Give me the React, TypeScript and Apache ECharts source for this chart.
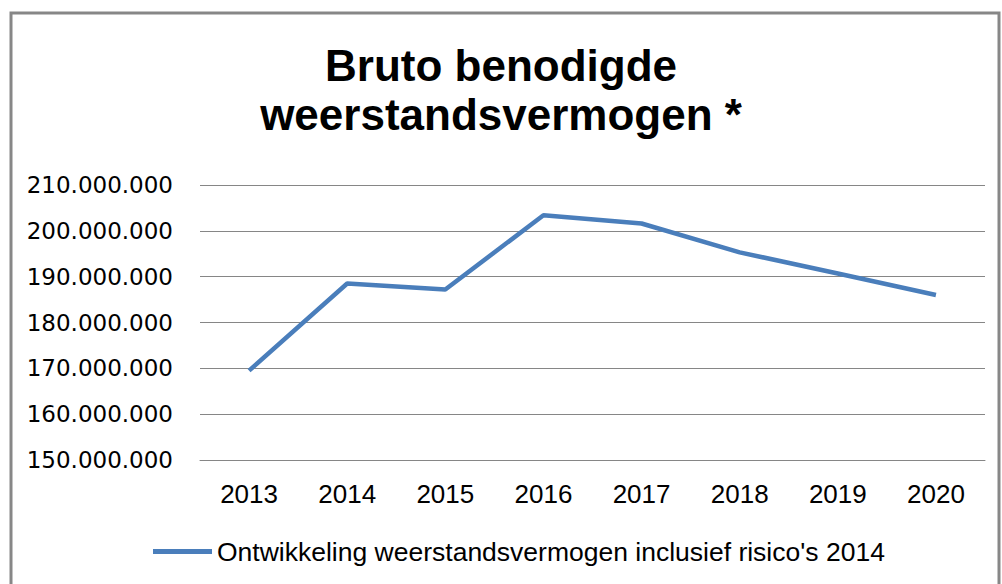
import React, { useEffect, useRef } from "react";
import * as echarts from "echarts";

const titleLines = ["Bruto benodigde", "weerstandsvermogen *"];
const years = ["2013", "2014", "2015", "2016", "2017", "2018", "2019", "2020"];
const seriesName = "Ontwikkeling weerstandsvermogen inclusief risico's 2014";
const values = [169500000, 188500000, 187200000, 203400000, 201600000, 195300000, 190700000, 186000000];
const yMin = 150000000;
const yMax = 210000000;
const yStep = 10000000;

function fmt(v: number): string {
  return String(Math.round(v)).replace(/\B(?=(\d{3})+(?!\d))/g, ".");
}

export default function App() {
  const ref = useRef<HTMLDivElement>(null);
  useEffect(() => {
    document.body.style.margin = "0";
    const chart = echarts.init(ref.current!, null, { renderer: "svg" });
    chart.setOption({
      animation: false,
      backgroundColor: "#ffffff",
      title: {
        text: titleLines.join("\n"),
        left: "center",
        top: 41,
        padding: [0, 0, 0, 20],
        textStyle: {
          fontFamily: "Liberation Sans, sans-serif",
          fontWeight: "bold",
          fontSize: 44,
          lineHeight: 49,
          color: "#000000",
        },
      },
      graphic: [
        {
          type: "rect",
          shape: { x: 11, y: 13, width: 988, height: 600 },
          style: { fill: "none", stroke: "#878787", lineWidth: 3 },
          silent: true,
        },
      ],
      legend: {
        data: [seriesName],
        bottom: 14,
        left: 148,
        itemWidth: 59,
        itemHeight: 5,
        itemGap: 8,
        icon: "rect",
        textStyle: {
          fontFamily: "Liberation Sans, sans-serif",
          fontSize: 26.5,
          color: "#000000",
        },
      },
      grid: { left: 200, right: 17, top: 185, bottom: 124, containLabel: false },
      xAxis: {
        type: "category",
        data: years,
        boundaryGap: true,
        axisLine: { show: true, lineStyle: { color: "#868686", width: 1 } },
        axisTick: { show: false },
        axisLabel: {
          margin: 21,
          fontFamily: "Liberation Sans, sans-serif",
          fontSize: 26,
          color: "#000000",
        },
      },
      yAxis: {
        type: "value",
        min: yMin,
        max: yMax,
        interval: yStep,
        axisLine: { show: false },
        axisTick: { show: false },
        splitLine: { show: true, lineStyle: { color: "#868686", width: 1 } },
        axisLabel: {
          margin: 27,
          fontFamily: "DejaVu Sans, sans-serif",
          fontSize: 23,
          color: "#000000",
          formatter: (v: number) => fmt(v),
        },
      },
      series: [
        {
          name: seriesName,
          type: "line",
          data: values,
          symbol: "none",
          lineStyle: { color: "#4a7ebb", width: 4.5 },
          itemStyle: { color: "#4a7ebb" },
        },
      ],
    });
    return () => chart.dispose();
  }, []);
  return <div ref={ref} style={{ position: "fixed", left: 0, top: 0, width: 1002, height: 584 }} />;
}
